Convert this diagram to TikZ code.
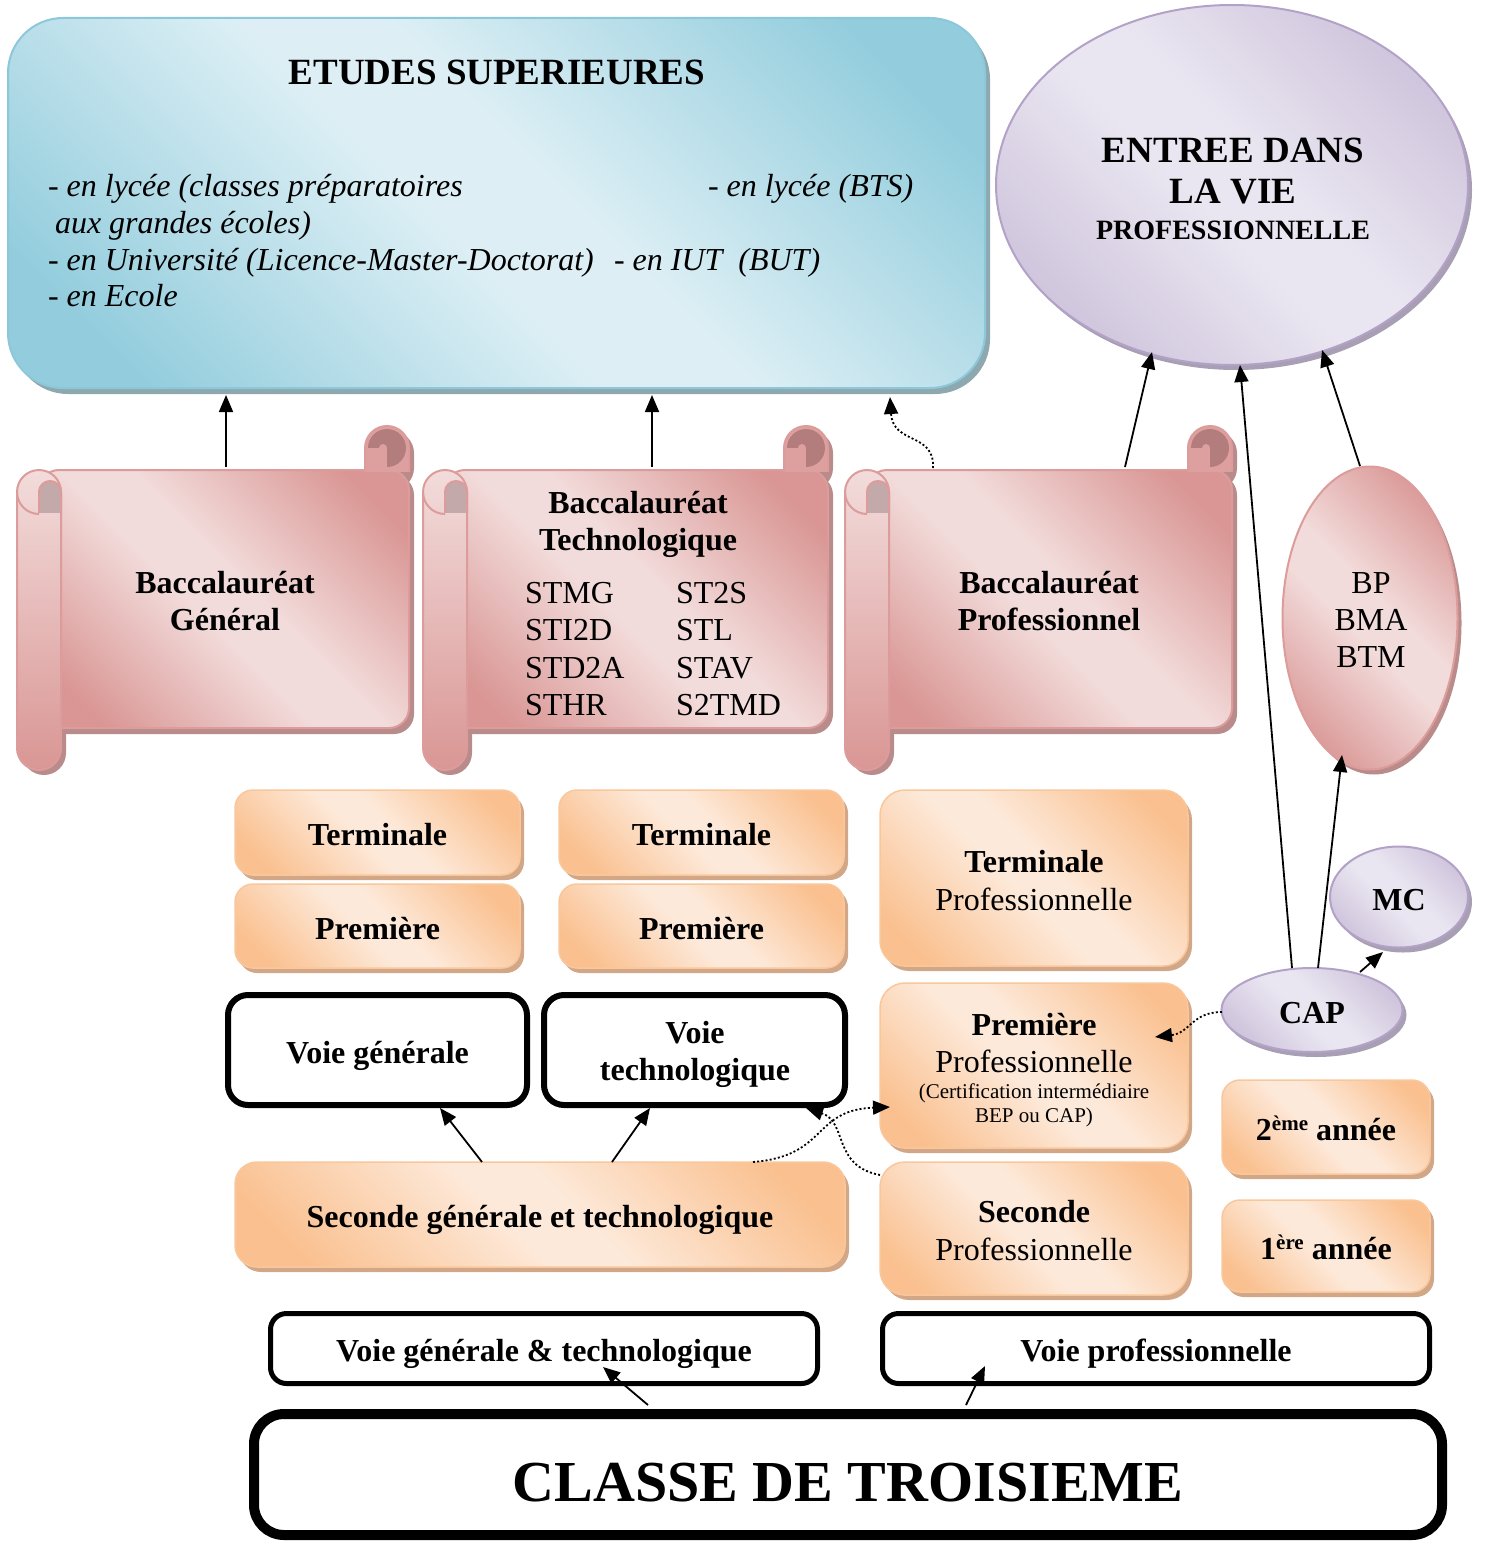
\documentclass[tikz,border=0pt]{standalone}
\usepackage{fontspec}
\setmainfont{Liberation Serif}
\usetikzlibrary{shapes.geometric,arrows.meta,shadows}
\definecolor{bdark}{HTML}{93CDDD}
\definecolor{blight}{HTML}{DDEFF5}
\definecolor{bborder}{HTML}{8CC8DA}
\definecolor{bshadow}{HTML}{8EA8AF}
\definecolor{pdark}{HTML}{D99694}
\definecolor{plight}{HTML}{F2DCDB}
\definecolor{pborder}{HTML}{DC9C9B}
\definecolor{pshadow}{HTML}{B98B8B}
\definecolor{pcurl}{HTML}{B27D7C}
\definecolor{pslot}{HTML}{C4A9AA}
\definecolor{pmid}{HTML}{DDA09F}
\definecolor{odark}{HTML}{FAC08F}
\definecolor{olight}{HTML}{FDE9D9}
\definecolor{oborder}{HTML}{F9C79C}
\definecolor{oshadow}{HTML}{D2A788}
\definecolor{vdark}{HTML}{CCC1DA}
\definecolor{vlight}{HTML}{EAE6F1}
\definecolor{vborder}{HTML}{B3A2C7}
\definecolor{vshadow}{HTML}{A89FB4}
\pgfdeclarehorizontalshading{blueS}{100bp}{color(0bp)=(bdark); color(22bp)=(bdark); color(46bp)=(blight); color(54bp)=(blight); color(78bp)=(bdark); color(100bp)=(bdark)}
\pgfdeclarehorizontalshading{pinkS}{100bp}{color(0bp)=(pdark); color(22bp)=(pdark); color(46bp)=(plight); color(54bp)=(plight); color(78bp)=(pdark); color(100bp)=(pdark)}
\pgfdeclarehorizontalshading{orangeS}{100bp}{color(0bp)=(odark); color(22bp)=(odark); color(46bp)=(olight); color(54bp)=(olight); color(78bp)=(odark); color(100bp)=(odark)}
\pgfdeclarehorizontalshading{violetS}{100bp}{color(0bp)=(vdark); color(22bp)=(vdark); color(46bp)=(vlight); color(54bp)=(vlight); color(78bp)=(vdark); color(100bp)=(vdark)}
\tikzset{
 every node/.style={inner sep=0pt, outer sep=0pt},
 txt/.style={font=\fontsize{32}{37}\selectfont, align=center},
 btxt/.style={font=\fontsize{32}{37}\selectfont\bfseries, align=center},
 oneline/.style={text height=31pt, text depth=5pt},
 itxt/.style={font=\fontsize{32}{37}\selectfont\itshape, anchor=base west},
 etbox/.style={rectangle, rounded corners=55pt, shading=blueS, shading angle=45, draw=bborder, line width=2pt, drop shadow={shadow xshift=5pt, shadow yshift=-6pt, fill=bshadow, opacity=1}},
 obox/.style={rectangle, rounded corners=18pt, shading=orangeS, shading angle=45, draw=oborder, line width=1.5pt, drop shadow={shadow xshift=4pt, shadow yshift=-5pt, fill=oshadow, opacity=1}},
 wbox/.style={rectangle, rounded corners=20pt, draw=black, line width=6pt, fill=white},
 vell/.style={ellipse, shading=violetS, shading angle=45, draw=vborder, line width=2pt, drop shadow={shadow xshift=4pt, shadow yshift=-5pt, fill=vshadow, opacity=1}},
 pell/.style={ellipse, shading=pinkS, shading angle=45, draw=pborder, line width=2pt, drop shadow={shadow xshift=4pt, shadow yshift=-5pt, fill=pshadow, opacity=1}},
 arr/.style={-{Triangle[length=17pt,width=14pt]}, line width=1.8pt},
 darr/.style={-{Triangle[length=17pt,width=14pt]}, line width=1.8pt, dash pattern=on 2pt off 2.2pt},
}
% scroll: #1 = left x, #2 = right x
\newcommand{\drawscroll}[2]{%
  % shadows
  \fill[pshadow, rounded corners=20pt] (#1+27,475) rectangle (#2+5,734);
  \fill[pshadow, rounded corners=22pt] (#1+5,475) rectangle (#1+49,775);
  \fill[pshadow, rounded corners=22pt] (#2-39,431) rectangle (#2+5,490);
  % body
  \shade[shading=pinkS, shading angle=45, draw=pborder, line width=2pt, rounded corners=20pt] (#1+22,470) rectangle (#2,728);
  % right curl column
  \begin{scope}
    \clip (#2-50,415) rectangle (#2+10,471);
    \filldraw[fill=pmid, draw=pborder, line width=2pt, rounded corners=22pt] (#2-44,426) rectangle (#2,520);
  \end{scope}
  \fill[pcurl] (#2-22,448) circle[radius=19];
  \fill[pmid] (#2-42.5,448) rectangle (#2-22,469);
  \fill[pmid] (#2-26,448) circle[radius=4];
  % left roll
  \shade[top color=plight, bottom color=pdark, draw=pborder, line width=2pt, rounded corners=22pt] (#1,470) rectangle (#1+44,770);
  \begin{scope}
    \clip (#1-3,492) rectangle (#1+22,520);
    \draw[pborder, line width=2pt] (#1+22,492) circle[radius=22];
  \end{scope}
  \begin{scope}
    \clip (#1+19,470) rectangle (#1+47,512);
    \filldraw[fill=pslot, draw=pborder, line width=2pt, rounded corners=11pt] (#1+22,481) rectangle (#1+44,540);
  \end{scope}
}
\begin{document}
\begin{tikzpicture}[x=1pt,y=-1pt]
\useasboundingbox (0,0) rectangle (1485,1544);
% ===== Etudes superieures =====
\node[etbox, minimum width=977pt, minimum height=370pt] (etudes) at (496.5,203) {};
\node[font=\fontsize{37}{40}\selectfont\bfseries] (ettitle) at (497,72) {ETUDES SUPERIEURES};
\node[itxt] (et1) at (48,196) {- en lycée (classes préparatoires};
\node[itxt] (et2) at (55,233) {aux grandes écoles)};
\node[itxt] (et3) at (48,270) {- en Université (Licence-Master-Doctorat)};
\node[itxt] (et4) at (48,306) {- en Ecole};
\node[itxt] (et5) at (708,196) {- en lycée (BTS)};
\node[itxt] (et6) at (614,270) {- en IUT\ \ (BUT)};
% ===== Entree dans la vie professionnelle =====
\node[vell, minimum width=472pt, minimum height=360pt] (entree) at (1232,185) {};
\node[font=\fontsize{37}{40}\selectfont\bfseries] (en1) at (1233,150) {ENTREE DANS};
\node[font=\fontsize{37}{40}\selectfont\bfseries] (en2) at (1233,192) {LA VIE};
\node[font=\fontsize{28}{30}\selectfont\bfseries] (en3) at (1233,230) {PROFESSIONNELLE};
% ===== Scrolls =====
\drawscroll{17}{409}
\drawscroll{423}{828}
\drawscroll{845}{1232}
\node[btxt] (bgtxt) at (225,601) {Baccalauréat\\Général};
\node[btxt] (bttxt) at (638,524) {Baccalauréat\\Technologique};
\node[font=\fontsize{32}{37.3}\selectfont, align=left, anchor=west] (stcol1) at (525,649) {STMG\\STI2D\\STD2A\\STHR};
\node[font=\fontsize{32}{37.3}\selectfont, align=left, anchor=west] (stcol2) at (676,649) {ST2S\\STL\\STAV\\S2TMD};
\node[btxt] (bptxt) at (1049,601) {Baccalauréat\\Professionnel};
% ===== BP ellipse =====
\node[pell, minimum width=175pt, minimum height=303pt] (bp) at (1370,618) {};
\node[txt] (bptext) at (1371,620) {BP\\BMA\\BTM};
% ===== Orange boxes =====
\node[obox, minimum width=285pt, minimum height=85pt, btxt, oneline] (term1) at (377.5,832.5) {Terminale};
\node[obox, minimum width=285pt, minimum height=84pt, btxt, oneline] (prem1) at (377.5,926) {Première};
\node[obox, minimum width=285pt, minimum height=85pt, btxt, oneline] (term2) at (701.5,832.5) {Terminale};
\node[obox, minimum width=285pt, minimum height=84pt, btxt, oneline] (prem2) at (701.5,926) {Première};
\node[obox, rounded corners=25pt, minimum width=308pt, minimum height=176pt] (termpro) at (1034,878) {};
\node[btxt] (tp1) at (1034,862) {Terminale};
\node[txt] (tp2) at (1034,899) {Professionnelle};
\node[obox, rounded corners=25pt, minimum width=308pt, minimum height=165pt] (prempro) at (1034,1065.5) {};
\node[btxt] (pp1) at (1034,1025) {Première};
\node[txt] (pp2) at (1034,1061) {Professionnelle};
\node[font=\fontsize{21}{24}\selectfont, align=center] (pp3) at (1034,1105) {(Certification intermédiaire\\BEP ou CAP)};
\node[obox, rounded corners=22pt, minimum width=610pt, minimum height=105pt, btxt, oneline] (secgt) at (540,1214.5) {Seconde générale et technologique};
\node[obox, rounded corners=25pt, minimum width=308pt, minimum height=133pt] (secpro) at (1034,1228.5) {};
\node[btxt] (sp1) at (1034,1212) {Seconde};
\node[txt] (sp2) at (1034,1249) {Professionnelle};
\node[obox, minimum width=208pt, minimum height=94pt, btxt, oneline] (an2) at (1326,1127) {2\raisebox{10pt}{\fontsize{21}{21}\selectfont ème} année};
\node[obox, minimum width=208pt, minimum height=92pt, btxt, oneline] (an1) at (1326,1246) {1\raisebox{10pt}{\fontsize{21}{21}\selectfont ère} année};
% ===== Violet ellipses =====
\node[vell, minimum width=138pt, minimum height=101pt, btxt, oneline] (mc) at (1399,897) {MC};
\node[vell, minimum width=181pt, minimum height=84pt, btxt, oneline] (cap) at (1312,1010) {CAP};
% ===== White boxes =====
\node[wbox, minimum width=299pt, minimum height=110pt, btxt, oneline] (vg) at (377.5,1050) {Voie générale};
\node[wbox, minimum width=301pt, minimum height=110pt] (vt) at (694.5,1050) {};
\node[btxt] (vttxt) at (695,1054.5) {Voie\\technologique};
\node[wbox, line width=5pt, rounded corners=16pt, minimum width=547pt, minimum height=70pt, btxt, oneline] (vgt) at (544,1348.5) {Voie générale \& technologique};
\node[wbox, line width=5pt, rounded corners=16pt, minimum width=547pt, minimum height=70pt, btxt, oneline] (vp) at (1156,1348.5) {Voie professionnelle};
\node[wbox, line width=10pt, rounded corners=30pt, minimum width=1188pt, minimum height=121pt, font=\fontsize{58}{62}\selectfont\bfseries, text height=58pt, text depth=5pt] (classe) at (848,1474.5) {CLASSE DE TROISIEME};
% ===== connector end points =====
\coordinate (bgen-top) at (226,467);
\coordinate (btec-top) at (652,467);
\coordinate (bpro-top1) at (933,468);
\coordinate (bpro-top2) at (1125,467);
\coordinate (et-in3) at (890,397);
\coordinate (en-in1) at (1152,352);
\coordinate (en-in2) at (1240,365);
\coordinate (en-in3) at (1322,350);
\coordinate (bp-top) at (1360,466);
\coordinate (bp-in) at (1342,755);
\coordinate (cap-t1) at (1292,968);
\coordinate (cap-t2) at (1318,968);
\coordinate (cap-t3) at (1360,972);
\coordinate (mc-in) at (1383,952);
\coordinate (cap-w) at (1222,1012);
\coordinate (pp-in1) at (1155,1037);
\coordinate (pp-in2) at (890,1107);
\coordinate (sg-t1) at (482,1162);
\coordinate (sg-t2) at (612,1162);
\coordinate (sg-t3) at (753,1162);
\coordinate (vg-in) at (440,1108);
\coordinate (vt-in1) at (650,1108);
\coordinate (vt-in2) at (806,1108);
\coordinate (sp-nw) at (880,1175);
\coordinate (cl-t1) at (648,1405);
\coordinate (cl-t2) at (966,1405);
\coordinate (vgt-in) at (603,1367);
\coordinate (vp-in) at (985,1366);
% ===== connectors =====
\draw[arr, shorten >=7pt] (bgen-top) -- (bgen-top |- etudes.south);
\draw[arr, shorten >=7pt] (btec-top) -- (btec-top |- etudes.south);
\draw[darr] (bpro-top1) .. controls (935,432) and (893,445) .. (et-in3);
\draw[arr] (bpro-top2) -- (en-in1);
\draw[arr] (cap-t1) -- (en-in2);
\draw[arr] (cap-t2) -- (bp-in);
\draw[arr] (bp-top) -- (en-in3);
\draw[arr] (cap-t3) -- (mc-in);
\draw[darr] (cap-w) .. controls (1192,1012) and (1190,1033) .. (pp-in1);
\draw[arr] (sg-t1) -- (vg-in);
\draw[arr] (sg-t2) -- (vt-in1);
\draw[darr] (sg-t3) .. controls (828,1156) and (812,1110) .. (pp-in2);
\draw[darr] (sp-nw) .. controls (832,1166) and (848,1122) .. (vt-in2);
\draw[arr] (cl-t1) -- (vgt-in);
\draw[arr] (cl-t2) -- (vp-in);
\end{tikzpicture}
\end{document}
